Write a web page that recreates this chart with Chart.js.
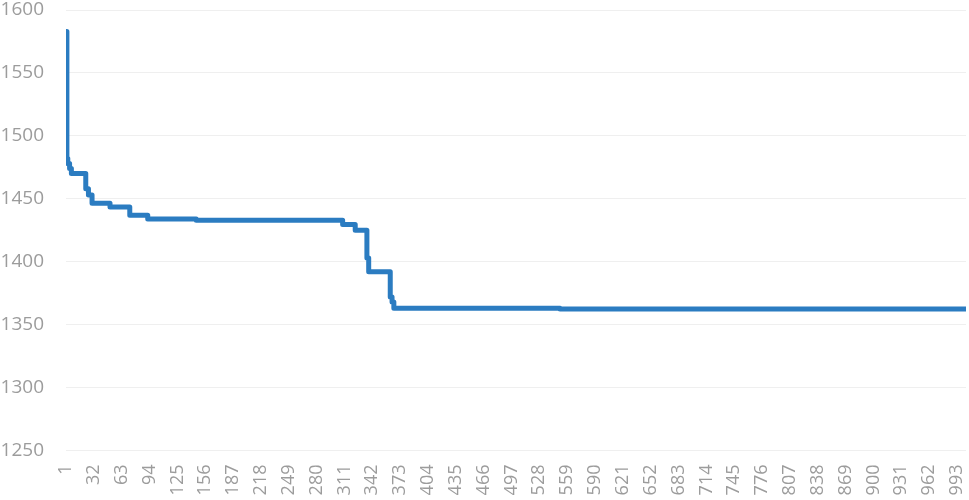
<!DOCTYPE html>
<html>
<head>
<meta charset="utf-8">
<script src="https://cdn.jsdelivr.net/npm/chart.js@4/dist/chart.umd.min.js"></script>
<style>
  html, body { margin: 0; padding: 0; background: #fff; }
  #wrap { width: 969px; height: 500px; }
</style>
</head>
<body>
<div id="wrap"><canvas id="chart" width="969" height="500"></canvas></div>
<script>
// iteration where the value changes, and the new value from that iteration on
const stepIters = [1, 2, 3, 5, 7, 23, 26, 30, 50, 72, 92, 146, 309, 323, 336, 338, 362, 364, 366, 551, 1003];
const stepValues = [1583, 1482, 1478, 1474, 1470, 1458, 1453, 1446.5, 1443.5, 1437, 1434, 1433, 1429.5, 1425, 1403, 1392, 1372, 1368, 1363, 1362.5, 1362.5];

const xTickLabels = [1, 32, 63, 94, 125, 156, 187, 218, 249, 280, 311, 342, 373, 404, 435, 466, 497, 528,
    559, 590, 621, 652, 683, 714, 745, 776, 807, 838, 869, 900, 931, 962, 993];
const yTickLabels = [1250, 1300, 1350, 1400, 1450, 1500, 1550, 1600];

const points = stepIters.map((it, i) => ({ x: it, y: stepValues[i] }));

Chart.defaults.font.family = '"Open Sans", "Liberation Sans", sans-serif';

// drop the automatic label padding so the plot area sits where the reference has it
function noPadding(scale) {
    scale.paddingTop = 0;
    scale.paddingBottom = 0;
    scale.paddingLeft = 0;
    scale.paddingRight = 0;
}

const ctx = document.getElementById('chart');
new Chart(ctx, {
    type: 'line',
    data: {
        datasets: [{
            data: points,
            borderColor: '#2b7cc1',
            borderWidth: 5,
            stepped: true,
            pointRadius: 0,
            borderJoinStyle: 'round',
            borderCapStyle: 'butt',
            fill: false
        }]
    },
    options: {
        responsive: false,
        animation: false,
        layout: { padding: { top: 10, right: 3, left: 0, bottom: 0 } },
        plugins: { legend: { display: false }, tooltip: { enabled: false } },
        scales: {
            x: {
                type: 'linear',
                min: 1,
                max: 1003,
                afterBuildTicks: (scale) => {
                    scale.ticks = xTickLabels.map(v => ({ value: v }));
                },
                afterFit: (scale) => { scale.height = 49.5; noPadding(scale); },
                ticks: {
                    autoSkip: false,
                    minRotation: 90,
                    maxRotation: 90,
                    padding: 14,
                    color: '#9c9c9c',
                    font: { size: 18 },
                    callback: (v) => String(v)
                },
                grid: { display: false, drawTicks: false },
                border: { display: false }
            },
            y: {
                min: yTickLabels[0],
                max: yTickLabels[yTickLabels.length - 1],
                afterBuildTicks: (scale) => {
                    scale.ticks = yTickLabels.map(v => ({ value: v }));
                },
                afterFit: (scale) => { scale.width = 66; noPadding(scale); },
                ticks: {
                    padding: 22,
                    color: '#9c9c9c',
                    font: { size: 19 },
                    callback: (v) => String(v)
                },
                grid: { color: '#efefef', lineWidth: 1, drawTicks: false },
                border: { display: false }
            }
        }
    }
});
</script>
</body>
</html>
